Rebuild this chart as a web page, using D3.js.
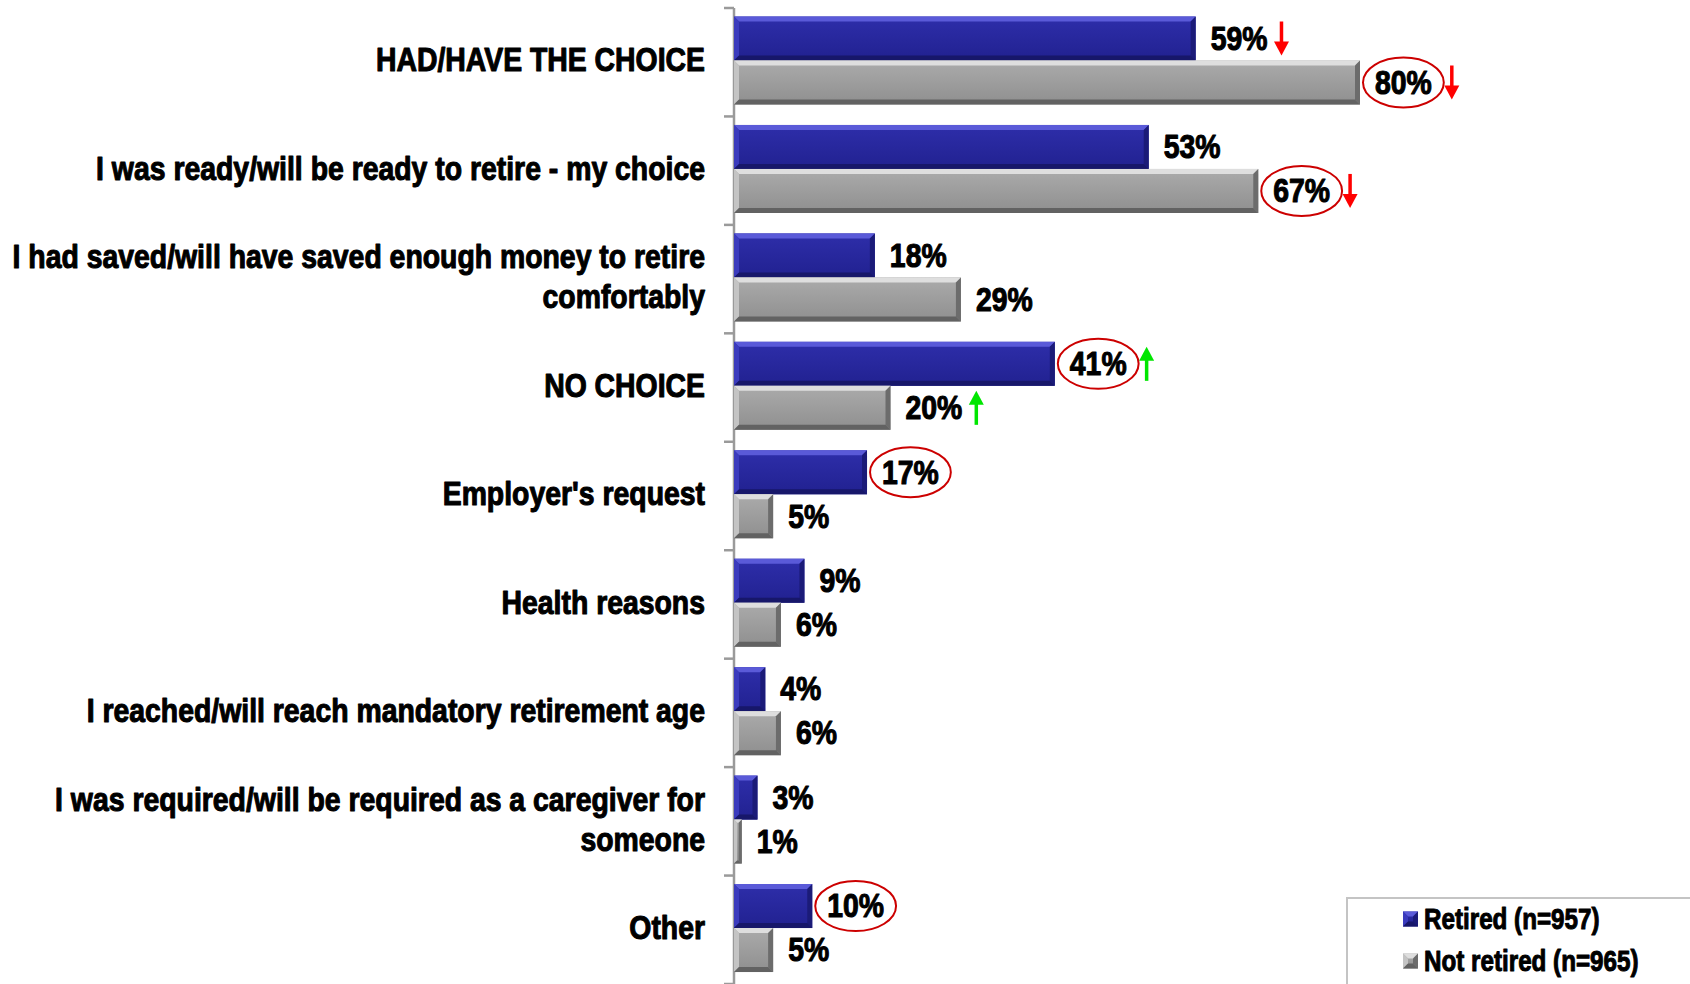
<!DOCTYPE html>
<html>
<head>
<meta charset="utf-8">
<script src="https://cdn.jsdelivr.net/npm/d3@7"></script>
<style>
  html, body { margin: 0; padding: 0; background: #ffffff; }
  svg { display: block; }
  text { font-family: "Liberation Sans", Arial, sans-serif; font-weight: bold; fill: #000; }
</style>
</head>
<body>
<svg id="chart" width="1690" height="984"></svg>
<script>
// Reasons for retirement, % of respondents
const categories = [
  "HAD/HAVE THE CHOICE",
  "I was ready/will be ready to retire - my choice",
  "I had saved/will have saved enough money to retire\ncomfortably",
  "NO CHOICE",
  "Employer's request",
  "Health reasons",
  "I reached/will reach mandatory retirement age",
  "I was required/will be required as a caregiver for\nsomeone",
  "Other"
];
const retired    = [59, 53, 18, 41, 17, 9, 4, 3, 10];
const notRetired = [80, 67, 29, 20, 5, 6, 6, 1, 5];

// significant differences: circled values and trend arrows
const retiredCircled    = [false, false, false, true, true, false, false, false, true];
const notRetiredCircled = [true, true, false, false, false, false, false, false, false];
const retiredTrend      = ["down", null, null, "up", null, null, null, null, null];
const notRetiredTrend   = ["down", "down", null, "up", null, null, null, null, null];

const seriesNames = ["Retired (n=957)", "Not retired (n=965)"];

// condensed bold type, drawn by squeezing the regular bold face horizontally
const NARROW = 0.835;

const svg = d3.select("#chart");
const defs = svg.append("defs");

const x = d3.scaleLinear().domain([0, 100]).range([734, 1516.5]);
const y = d3.scaleBand().domain(categories).range([8, 984]).padding(0);
const bw = y.bandwidth();

function narrowText(parent, tx, ty, str, size, anchor, stroke) {
  const t = parent.append("text")
    .attr("transform", `translate(${tx},${ty}) scale(${NARROW},1)`)
    .attr("x", 0).attr("y", 0).attr("dy", "0.36em")
    .attr("text-anchor", anchor || "start")
    .attr("font-size", size)
    .attr("stroke", "#000").attr("stroke-width", stroke)
    .attr("stroke-linejoin", "round")
    .text(str);
  return { node: t, width: t.node().getComputedTextLength() * NARROW };
}

// bar palettes: face gradient + bevel shades
const palettes = {
  blue: { top: "#2e2eaa", bottom: "#212190", hi: "#5a5ad8", left: "#3b3bbd", right: "#1b1b78", low: "#17176a" },
  gray: { top: "#ababab", bottom: "#8f8f8f", hi: "#dedede", left: "#c4c4c4", right: "#6c6c6c", low: "#626262" }
};
Object.entries(palettes).forEach(([k, p]) => {
  const g = defs.append("linearGradient").attr("id", "face-" + k)
    .attr("x1", 0).attr("y1", 0).attr("x2", 0).attr("y2", 1);
  g.append("stop").attr("offset", "0%").attr("stop-color", p.top);
  g.append("stop").attr("offset", "100%").attr("stop-color", p.bottom);
});

function bevelBar(parent, x0, x1, y0, h, pal) {
  const w = x1 - x0;
  const p = palettes[pal];
  const b = Math.min(5, w / 2.5, h / 3);
  const g = parent.append("g");
  g.append("rect").attr("x", x0).attr("y", y0).attr("width", w).attr("height", h)
    .attr("fill", `url(#face-${pal})`);
  const pts = (arr) => arr.map(d => d.join(",")).join(" ");
  g.append("polygon").attr("fill", p.hi)
    .attr("points", pts([[x0, y0], [x1, y0], [x1 - b, y0 + b], [x0 + b, y0 + b]]));
  g.append("polygon").attr("fill", p.left)
    .attr("points", pts([[x0, y0], [x0 + b, y0 + b], [x0 + b, y0 + h - b], [x0, y0 + h]]));
  g.append("polygon").attr("fill", p.right)
    .attr("points", pts([[x1, y0], [x1, y0 + h], [x1 - b, y0 + h - b], [x1 - b, y0 + b]]));
  g.append("polygon").attr("fill", p.low)
    .attr("points", pts([[x0, y0 + h], [x0 + b, y0 + h - b], [x1 - b, y0 + h - b], [x1, y0 + h]]));
}

// axis: vertical line with outer ticks at band edges
const axisG = svg.append("g");
axisG.append("line").attr("x1", x(0)).attr("x2", x(0)).attr("y1", y.range()[0]).attr("y2", 984)
  .attr("stroke", "#9a9a9a").attr("stroke-width", 2.5);
const edges = categories.map(c => y(c)).concat([y(categories[categories.length - 1]) + bw]);
axisG.selectAll("line.tick").data(edges).join("line").attr("class", "tick")
  .attr("x1", x(0) - 10).attr("x2", x(0)).attr("y1", d => d).attr("y2", d => d)
  .attr("stroke", "#9a9a9a").attr("stroke-width", 2.5);

const barH = 44;
const series = [
  { vals: retired, circled: retiredCircled, trend: retiredTrend, pal: "blue", off: 8.5 },
  { vals: notRetired, circled: notRetiredCircled, trend: notRetiredTrend, pal: "gray", off: 8.5 + barH }
];

const barsG = svg.append("g");
const labelsG = svg.append("g");

function arrow(g, ax, cy, dir) {
  const color = dir === "up" ? "#00e600" : "#ff0000";
  const len = 34, head = 14, hw = 7.5;
  const yTop = cy - len / 2, yBot = cy + len / 2;
  if (dir === "down") {
    g.append("line").attr("x1", ax).attr("x2", ax).attr("y1", yTop).attr("y2", yBot - head + 1)
      .attr("stroke", color).attr("stroke-width", 3.5);
    g.append("polygon").attr("fill", color)
      .attr("points", `${ax - hw},${yBot - head} ${ax + hw},${yBot - head} ${ax},${yBot}`);
  } else {
    g.append("line").attr("x1", ax).attr("x2", ax).attr("y1", yTop + head - 1).attr("y2", yBot)
      .attr("stroke", color).attr("stroke-width", 3.5);
    g.append("polygon").attr("fill", color)
      .attr("points", `${ax - hw},${yTop + head} ${ax + hw},${yTop + head} ${ax},${yTop}`);
  }
}

series.forEach(s => {
  categories.forEach((c, i) => {
    const v = s.vals[i];
    const y0 = y(c) + s.off;
    bevelBar(barsG, x(0), x(v), y0, barH, s.pal);
    const cy = y0 + barH / 2;
    const tx = x(v) + 15;
    const w = narrowText(labelsG, tx, cy - 1, v + "%", 34, "start", 1.1).width;
    let ax;
    if (s.circled[i]) {
      const rx = w / 2 + 12;
      const ecx = tx + w / 2;
      labelsG.append("ellipse").attr("cx", ecx).attr("cy", cy).attr("rx", rx).attr("ry", 25)
        .attr("fill", "none").attr("stroke", "#cc0000").attr("stroke-width", 2);
      ax = ecx + rx + 8;
    } else {
      ax = tx + w + 14;
    }
    if (s.trend[i]) arrow(labelsG, ax, cy, s.trend[i]);
  });
});

// category labels, right aligned against the axis
const catG = svg.append("g");
categories.forEach(c => {
  const lines = c.split("\n");
  const lh = 40;
  const cy = y(c) + bw / 2 - 3;
  lines.forEach((ln, k) => {
    narrowText(catG, 705, cy + (k - (lines.length - 1) / 2) * lh, ln, 34, "end", 1.1);
  });
});

// legend
const lg = svg.append("g");
lg.append("rect").attr("x", 1347).attr("y", 898).attr("width", 400).attr("height", 120)
  .attr("fill", "#fff").attr("stroke", "#c4c4c4").attr("stroke-width", 2);
seriesNames.forEach((name, k) => {
  const cy = 919 + k * 42;
  const pal = k === 0 ? "blue" : "gray";
  bevelBar(lg, 1403, 1418, cy - 7.5, 15, pal);
  narrowText(lg, 1424, cy, name, 29, "start", 1.0);
});
</script>
</body>
</html>
